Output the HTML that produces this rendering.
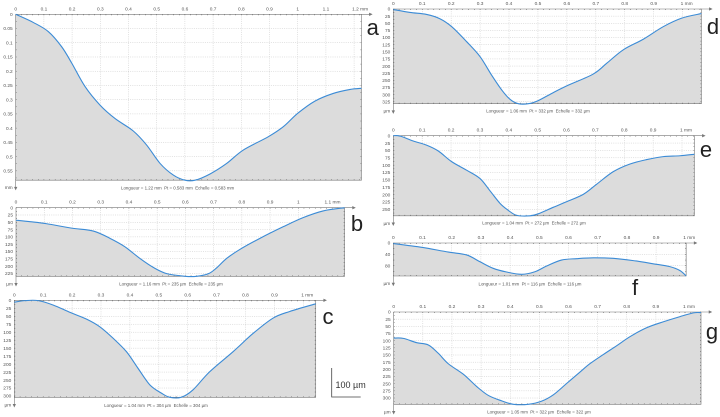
<!DOCTYPE html>
<html lang="fr">
<head>
<meta charset="utf-8">
<title>Depth profiles a-g</title>
<style>
html,body{margin:0;padding:0;background:#fff;width:720px;height:417px;overflow:hidden}
svg{display:block;font-family:"Liberation Sans",sans-serif}
.tick{font-size:4.8px;fill:#555}
.cap{font-size:4.4px;fill:#555;text-anchor:middle;white-space:pre}
.letter{font-size:22px;fill:#222;text-anchor:middle}
</style>
</head>
<body>
<svg id="chart" xmlns="http://www.w3.org/2000/svg" width="720" height="417" viewBox="0 0 720 417">
<g id="panels" style="filter:blur(0.25px)"></g>
<g>
<path d="M331.7 368V397H360.7" fill="none" stroke="#444" stroke-width="0.8"/>
<text x="335.5" y="388" font-size="9" fill="#333">100 µm</text>
</g>
</svg>
<script>
// Panel a (mm)
const aDistance = [0,.063,.116,.163,.199,.246,.299,.352,.417,.464,.512,.559,.600,.636,.689,.748,.807,.896,.949,1.0,1.061,1.126,1.186,1.226];
const aDepth = [0,.029,.061,.114,.172,.254,.319,.366,.41,.459,.524,.565,.583,.583,.561,.524,.477,.43,.395,.348,.305,.278,.264,.26];
const aXTicks = [0,.1,.2,.3,.4,.5,.6,.7,.8,.9,1,1.1,1.2];
const aYTicks = [0,.05,.1,.15,.2,.25,.3,.35,.4,.45,.5,.55];
// Panel b (µm)
const bDistance = [0,.05,.109,.197,.274,.333,.386,.439,.487,.534,.599,.64,.682,.711,.746,.793,.864,.947,1.017,1.088,1.164];
const bDepth = [43,48,55,70,80,105,134,174,205,226,235,235,226,206,174,143,105,65,34,11,0];
const bXTicks = [0,.1,.2,.3,.4,.5,.6,.7,.8,.9,1,1.1];
const bYTicks = [0,25,50,75,100,125,150,175,200,225];
// Panel c (µm)
const cDistance = [0,.037,.083,.135,.193,.25,.296,.342,.388,.428,.469,.509,.538,.578,.618,.676,.757,.826,.895,.953,1.043];
const cDepth = [6,1,1,15,38,59,83,119,161,213,265,291,304,304,281,224,161,104,56,35,11];
const cXTicks = [0,.1,.2,.3,.4,.5,.6,.7,.8,.9,1];
const cYTicks = [0,25,50,75,100,125,150,175,200,225,250,275,300];
// Panel d (µm)
const dDistance = [0,.058,.115,.161,.202,.254,.3,.34,.375,.404,.432,.467,.501,.553,.605,.691,.738,.795,.864,.933,.997,1.065];
const dDepth = [2,12,19,34,62,115,167,232,284,317,332,332,321,293,267,228,190,143,106,62,32,16];
const dXTicks = [0,.1,.2,.3,.4,.5,.6,.7,.8,.9,1];
const dYTicks = [0,25,50,75,100,125,150,175,200,225,250,275,300,325];
// Panel e (µm)
const eDistance = [0,.023,.069,.115,.156,.202,.254,.3,.335,.37,.398,.427,.473,.502,.554,.6,.658,.704,.762,.82,.878,.935,.993,1.043];
const eDepth = [0,1,18,32,52,88,117,145,187,230,253,270,272,265,243,224,199,165,122,96,81,71,68,63];
const eXTicks = [0,.1,.2,.3,.4,.5,.6,.7,.8,.9,1];
const eYTicks = [0,25,50,75,100,125,150,175,200,225,250];
// Panel f (µm)
const fDistance = [0,.046,.103,.189,.251,.297,.342,.388,.44,.485,.525,.576,.628,.685,.753,.822,.89,.947,.982,1.003];
const fDepth = [2,8,16,32,42,66,89,102,110,101,81,60,55,52,54,62,73,83,97,116];
const fXTicks = [0,.1,.2,.3,.4,.5,.6,.7,.8,.9,1];
const fYTicks = [0,40,80];
// Panel g (µm)
const gDistance = [0,.033,.079,.119,.153,.188,.239,.285,.325,.371,.411,.462,.508,.548,.594,.64,.674,.72,.765,.811,.868,.926,.983,1.029,1.055];
const gDepth = [91,92,107,115,144,181,217,260,291,310,322,322,311,289,249,209,180,148,118,86,55,34,16,3,2];
const gXTicks = [0,.1,.2,.3,.4,.5,.6,.7,.8,.9,1];
const gYTicks = [0,25,50,75,100,125,150,175,200,225,250,275,300];

const captions = {
  a:"Longueur = 1.22 mm  Pt = 0.583 mm  Echelle = 0.583 mm",
  b:"Longueur = 1.16 mm  Pt = 235 µm  Echelle = 235 µm",
  c:"Longueur = 1.04 mm  Pt = 304 µm  Echelle = 304 µm",
  d:"Longueur = 1.06 mm  Pt = 332 µm  Echelle = 332 µm",
  e:"Longueur = 1.04 mm  Pt = 272 µm  Echelle = 272 µm",
  f:"Longueur = 1.01 mm  Pt = 116 µm  Echelle = 116 µm",
  g:"Longueur = 1.05 mm  Pt = 322 µm  Echelle = 322 µm"
};

const panels = [
 {id:'a',unit:'mm',xs:aDistance,ys:aDepth,xt:aXTicks,yt:aYTicks,x0:15.7,y0:14.3,kx:282,ky:284.6,xMax:1.226,yMax:.583,lx:372.7,ly:35,cx:177.6,cy:189.5},
 {id:'b',unit:'µm',xs:bDistance,ys:bDepth,xt:bXTicks,yt:bYTicks,x0:16,y0:207.7,kx:282.3,ky:.2918,xMax:1.164,yMax:235,lx:357,ly:231,cx:171,cy:285.5},
 {id:'c',unit:'µm',xs:cDistance,ys:cDepth,xt:cXTicks,yt:cYTicks,x0:14.3,y0:300.3,kx:289,ky:.319,xMax:1.043,yMax:304,lx:328,ly:324,cx:156,cy:407},
 {id:'d',unit:'µm',xs:dDistance,ys:dDepth,xt:dXTicks,yt:dYTicks,x0:393.3,y0:9,kx:289.3,ky:.2853,xMax:1.065,yMax:332,lx:713,ly:34,cx:538,cy:112.5},
 {id:'e',unit:'µm',xs:eDistance,ys:eDepth,xt:eXTicks,yt:eYTicks,x0:393.3,y0:135.7,kx:288.7,ky:.2947,xMax:1.043,yMax:272,lx:706,ly:157,cx:534,cy:224.5},
 {id:'f',unit:'µm',xs:fDistance,ys:fDepth,xt:fXTicks,yt:fYTicks,x0:393.3,y0:243,kx:292,ky:.2845,xMax:1.003,yMax:116,lx:635,ly:295,cx:530,cy:285.5},
 {id:'g',unit:'µm',xs:gDistance,ys:gDepth,xt:gXTicks,yt:gYTicks,x0:393.7,y0:312,kx:291.3,ky:.2867,xMax:1.055,yMax:322,lx:712,ly:339,cx:539,cy:413.5}
];

const NS = 'http://www.w3.org/2000/svg';
function make(parent, tag, attrs, text){
  const el = document.createElementNS(NS, tag);
  for (const k in attrs) el.setAttribute(k, attrs[k]);
  if (text !== undefined) el.textContent = text;
  parent.appendChild(el);
  return el;
}
function smoothPath(pts){
  let d = 'M' + pts[0][0].toFixed(2) + ' ' + pts[0][1].toFixed(2);
  for (let i = 0; i < pts.length - 1; i++){
    const p0 = pts[Math.max(i-1,0)], p1 = pts[i], p2 = pts[i+1], p3 = pts[Math.min(i+2,pts.length-1)];
    const c1x = p1[0] + (p2[0]-p0[0])/6, c1y = p1[1] + (p2[1]-p0[1])/6;
    const c2x = p2[0] - (p3[0]-p1[0])/6, c2y = p2[1] - (p3[1]-p1[1])/6;
    d += 'C' + [c1x,c1y,c2x,c2y,p2[0],p2[1]].map(v => v.toFixed(2)).join(' ');
  }
  return d;
}

const root = document.getElementById('panels');
panels.forEach(function(p){
  const xScale = v => p.x0 + v * p.kx;
  const yScale = v => p.y0 + v * p.ky;
  const right = xScale(p.xMax), bottom = yScale(p.yMax);
  const g = make(root, 'g', {});
  
  

  // grid
  p.xt.slice(1).forEach(function(t){
    const l = make(g, 'line', {x1:xScale(t),x2:xScale(t),y1:p.y0,y2:bottom,stroke:'#c4c4c4','stroke-width':.5,'stroke-dasharray':'1 1.2'});
    
    
  });
  p.yt.slice(1).forEach(function(t){
    const l = make(g, 'line', {x1:p.x0,x2:right,y1:yScale(t),y2:yScale(t),stroke:'#c4c4c4','stroke-width':.5,'stroke-dasharray':'1 1.2'});
    
    
  });

  // area and line
  const pts = p.xs.map((x,i) => [xScale(x), yScale(p.ys[i])]);
  const line = smoothPath(pts);
  const area = make(g, 'path', {d:line + 'L' + right + ' ' + bottom + 'L' + p.x0 + ' ' + bottom + 'Z',fill:'#dcdcdc'});
  
  

  // frame right + bottom
  const frame = make(g, 'path', {d:'M'+right+' '+p.y0+'V'+bottom+'H'+p.x0,fill:'none',stroke:'#777','stroke-width':.6});
  
  

  // axes
  const xAxis = make(g, 'path', {d:'M'+p.x0+' '+p.y0+'H'+(right+8)+'M'+(right+8)+' '+(p.y0-1.2)+'L'+(right+10.5)+' '+p.y0+'L'+(right+8)+' '+(p.y0+1.2)+'Z',fill:'#777',stroke:'#777','stroke-width':.6});
  
  
  const yAxis = make(g, 'path', {d:'M'+p.x0+' '+p.y0+'V'+(bottom+7)+'M'+(p.x0-1.2)+' '+(bottom+7)+'L'+p.x0+' '+(bottom+9.5)+'L'+(p.x0+1.2)+' '+(bottom+7)+'Z',fill:'#777',stroke:'#777','stroke-width':.6});
  
  

  // minor ticks derived from the major tick step
  const xStep = (p.xt[1]-p.xt[0])/5;
  for (let v = 0; v <= p.xMax; v += xStep){
    const a = make(g, 'path', {d:'M'+xScale(v)+' '+p.y0+'v1M'+xScale(v)+' '+bottom+'v-1',stroke:'#555','stroke-width':.5});
    
    
  }
  const yStep = (p.yt[1]-p.yt[0])/2;
  for (let v = 0; v <= p.yMax; v += yStep){
    const a = make(g, 'path', {d:'M'+p.x0+' '+yScale(v)+'h1M'+right+' '+yScale(v)+'h-1',stroke:'#555','stroke-width':.5});
    
    
  }

  // curve
  const curve = make(g, 'path', {d:line,fill:'none',stroke:'#3b8bd6','stroke-width':1.1,'stroke-linejoin':'round'});
  
  

  // tick labels
  p.xt.forEach(function(t,i){
    const isLast = i === p.xt.length-1;
    const lb = make(g, 'text', {class:'tick',x:xScale(t),y:p.y0-4,'text-anchor':isLast?'start':'middle',dx:isLast?-2:0}, String(t) + (isLast?' mm':''));
    
    
  });
  p.yt.forEach(function(t){
    const lb = make(g, 'text', {class:'tick',x:p.x0-3,y:yScale(t)+1.7,'text-anchor':'end'}, String(t));
    
    
  });
  const unit = make(g, 'text', {class:'tick',x:p.x0-3,y:bottom+9,'text-anchor':'end'}, p.unit);
  
  

  const cap = make(g, 'text', {class:'cap',x:p.cx,y:p.cy}, captions[p.id]);
  
  
  const letter = make(g, 'text', {class:'letter',x:p.lx,y:p.ly}, p.id);
  
  
});
</script>
</body>
</html>
